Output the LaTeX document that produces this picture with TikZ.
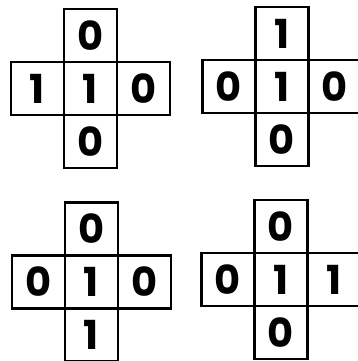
\documentclass[tikz,border=0pt]{standalone}
\usepackage{fontspec}
\setmainfont{Poppins}
\usetikzlibrary{positioning}

\begin{document}
\begin{tikzpicture}[x=1pt,y=1pt,
		cell/.style={draw,line width=2.2pt,minimum size=53pt,inner sep=0pt,outer sep=0pt,
			font=\fontsize{40}{40}\selectfont\bfseries}]
			\useasboundingbox (0,0) rectangle (357,361);
			% each cross: centre, then top, left, right, bottom
			\foreach \n/\x/\y/\t/\l/\c/\r/\b in {a/90.5/272.5/0/1/1/0/0, b/282/274.5/1/0/1/0/0,
				c/91.5/79/0/0/1/0/1, d/281/81.5/0/0/1/1/0}{
				\node[cell] (\n) at (\x,\y) {\c};
				\node[cell,above=0pt of \n] (\n-t) {\t};
				\node[cell,left=0pt of \n] (\n-l) {\l};
				\node[cell,right=0pt of \n] (\n-r) {\r};
				\node[cell,below=0pt of \n] (\n-b) {\b};
			}
		\end{tikzpicture}
\end{document}
